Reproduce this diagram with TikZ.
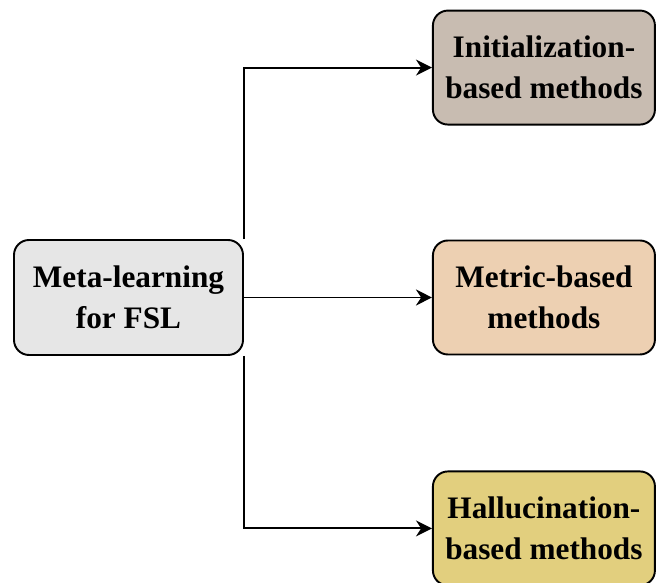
\documentclass[tikz,border=0pt]{standalone}
\usepackage{fontspec}
\setmainfont{Liberation Serif}
\usetikzlibrary{arrows.meta,positioning}
\definecolor{FslRoot}{HTML}{E6E6E6}
\definecolor{FslInit}{HTML}{C8BCB1}
\definecolor{FslMetric}{HTML}{EDD0B2}
\definecolor{FslHalluc}{HTML}{E2CF7E}
\tikzset{
  fsl box/.style={
    draw=black,
    rounded corners=0.3cm,
    align=center,
    line width=1.1pt,
    inner sep=2pt,
    font=\fontsize{17.8}{23.3}\selectfont\bfseries
  },
  fsl root/.style={
    fsl box,
    fill=FslRoot,
    minimum width=4.58cm,
    minimum height=2.3cm
  },
  fsl branch/.style={
    fsl box,
    minimum width=4.44cm,
    minimum height=2.28cm
  },
  fsl flow/.style={-{Stealth[length=3.2mm,width=3.2mm]},draw=black,line width=1.1pt}
}

\begin{document}
\begin{tikzpicture}[node distance=2.28cm and 3.76cm]
  \useasboundingbox (-2.57,-5.71) rectangle (10.55,5.95);

  \node[fsl root] (meta) {Meta-learning\\for FSL};
  \node[fsl branch,fill=FslMetric,right=of meta] (metric) {Metric-based\\methods};
  \node[fsl branch,fill=FslInit,above=of metric] (init) {Initialization-\\based methods};
  \node[fsl branch,fill=FslHalluc,below=2.3cm of metric] (halluc) {Hallucination-\\based methods};

  \draw[fsl flow] (meta.north east) |- (init.west);
  \draw[fsl flow] (meta.east) -- (metric.west);
  \draw[fsl flow] (meta.south east) |- (halluc.west);
\end{tikzpicture}
\end{document}
